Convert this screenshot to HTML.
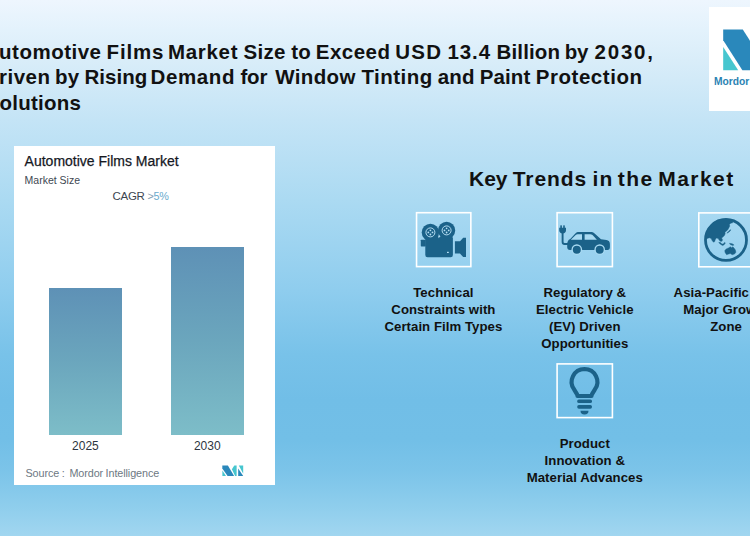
<!DOCTYPE html>
<html lang="en">
<head>
<meta charset="utf-8">
<title>Automotive Films Market</title>
<style>
  html, body { margin: 0; padding: 0; }
  body {
    width: 750px; height: 536px; overflow: hidden; position: relative;
    font-family: "Liberation Sans", sans-serif;
    background: linear-gradient(to bottom,
      #eef6fe 0px, #e3f2fc 30px, #d9edf9 60px, #c4e4f6 120px, #abdaf2 200px,
      #8fcdee 290px, #78c2e9 355px, #71bee7 400px, #72bfe7 440px, #7cc4e9 472px,
      #8dcdec 504px, #a1d6f0 536px);
  }
  .abs { position: absolute; white-space: nowrap; }
  .ttl { margin: 0; font-weight: bold; font-size: 20.5px; line-height: 24px; color: #111; }
  .tl { position: absolute; left: 0; white-space: nowrap; }
  .tl span { position: absolute; top: 0; }
  .kt { margin: 0; position: absolute; left: 0; font-size: 21px; line-height: 24px; font-weight: bold; color: #111; white-space: nowrap; }
  .kt span { position: absolute; top: 0; }
  .panel { position: absolute; left: 14.4px; top: 146.4px; width: 260.8px; height: 338.6px; background: #fff; }
  .bar { position: absolute; background: linear-gradient(to bottom, #5e91b6 0%, #6ba6bd 50%, #7dbdc8 100%); }
  .lbl { position: absolute; width: 160px; text-align: center; font-weight: bold; font-size: 13.2px; letter-spacing: 0.05px; line-height: 17px; color: #111; white-space: nowrap; }
  svg { position: absolute; left: 0; top: 0; overflow: visible; }
</style>
</head>
<body>

<!-- Title -->
<h1 class="ttl">
<span class="tl" style="top:39.7px"><span style="left:-16.2px;letter-spacing:0.49px">Automotive</span> <span style="left:106.6px;letter-spacing:0.84px">Films</span> <span style="left:168.0px;letter-spacing:0.69px">Market</span> <span style="left:243.4px;letter-spacing:0.36px">Size</span> <span style="left:291.2px;letter-spacing:0.20px">to</span> <span style="left:315.8px;letter-spacing:0.48px">Exceed</span> <span style="left:395.2px;letter-spacing:1.35px">USD</span> <span style="left:447.4px;letter-spacing:0.93px">13.4</span> <span style="left:496.6px;letter-spacing:0.12px">Billion</span> <span style="left:564.7px;letter-spacing:-0.10px">by</span> <span style="left:594.5px;letter-spacing:1.80px">2030,</span></span>
<span class="tl" style="top:65.0px"><span style="left:-16.2px;letter-spacing:0.48px">Driven</span> <span style="left:55.0px;letter-spacing:0.34px">by</span> <span style="left:84.5px;letter-spacing:0.02px">Rising</span> <span style="left:150.6px;letter-spacing:0.61px">Demand</span> <span style="left:240.4px;letter-spacing:-0.10px">for</span> <span style="left:275.2px;letter-spacing:0.36px">Window</span> <span style="left:361.4px;letter-spacing:0.48px">Tinting</span> <span style="left:437.8px;letter-spacing:0.15px">and</span> <span style="left:479.8px;letter-spacing:0.08px">Paint</span> <span style="left:535.7px;letter-spacing:0.55px">Protection</span></span>
<span class="tl" style="top:90.8px"><span style="left:-14.3px;letter-spacing:0.22px">Solutions</span></span>
</h1>

<!-- Logo card top-right -->
<div class="abs" style="left:708.9px; top:7px; width:60px; height:103.5px; background:#fff;"></div>
<svg width="750" height="536" viewBox="0 0 750 536">
  <polygon points="723.2,29.6 742.8,29.6 769,70.3 742.4,70.3 723.2,40.3" fill="#2a88bb"/>
  <polygon points="723.2,46.9 738.2,70.3 723.2,70.3" fill="#46c6cf"/>
</svg>
<div class="abs" style="left:713.9px; top:74.6px; font-size:11.4px; line-height:13px; font-weight:bold; color:#2b83b3; transform:scaleX(0.9); transform-origin:0 0;">Mordor Intelligence</div>

<!-- Chart panel -->
<div class="panel"></div>
<div class="abs" style="left:24.6px; top:152.5px; font-size:14px; line-height:16px; color:#15181f; -webkit-text-stroke:0.25px #15181f;">Automotive Films Market</div>
<div class="abs" style="left:24.6px; top:173.5px; font-size:10.5px; line-height:12px; color:#414852;">Market Size</div>
<div class="abs" style="left:112.6px; top:189.5px; font-size:11.5px; line-height:13px; color:#3c4651; letter-spacing:-0.3px;">CAGR <span style="color:#7f9db3;font-size:10.8px">&gt;</span><span style="color:#6aaacd;font-size:10.8px">5%</span></div>
<div class="bar" style="left:48.9px; top:287.5px; width:73px; height:147.7px;"></div>
<div class="bar" style="left:170.8px; top:247.2px; width:73px; height:188px;"></div>
<div class="abs" style="left:55.4px; width:60px; text-align:center; top:438.9px; font-size:12px; line-height:14px; color:#2d3540;">2025</div>
<div class="abs" style="left:177.3px; width:60px; text-align:center; top:438.9px; font-size:12px; line-height:14px; color:#2d3540;">2030</div>
<div class="abs" style="left:25.5px; top:466.5px; font-size:10.8px; line-height:13px; color:#6d7882; letter-spacing:-0.08px; word-spacing:-0.5px;">Source :&nbsp; Mordor Intelligence</div>
<svg width="750" height="536" viewBox="0 0 750 536">
  <g id="mini-logo">
    <polygon points="222.3,465.4 227.9,465.4 234.1,475.9 227.6,475.9 222.3,468.6" fill="#2a88bb"/>
    <polygon points="222.4,470.6 226,475.9 222.4,475.9" fill="#46c6cf"/>
    <polygon points="234.3,465.4 236.6,465.4 236.6,475.9 235.1,475.9 231.9,469.3" fill="#46c6cf"/>
    <polygon points="238.2,468.4 243.2,475.9 238.2,475.9" fill="#2a88bb"/>
    <polygon points="238.8,465.4 243.2,465.4 243.2,473.8" fill="#46c6cf"/>
  </g>
</svg>

<!-- Key Trends heading -->
<h2 class="kt" style="top:167px"><span style="left:469.1px;letter-spacing:-0.10px">Key</span> <span style="left:512.8px;letter-spacing:0.90px">Trends</span> <span style="left:592.5px;letter-spacing:1.11px">in</span> <span style="left:617.7px;letter-spacing:1.54px">the</span> <span style="left:658.2px;letter-spacing:1.47px">Market</span></h2>

<!-- Icons -->
<svg width="750" height="536" viewBox="0 0 750 536">
  <!-- icon frames -->
  <g fill="none" stroke="#ffffff" stroke-width="1.6">
    <rect x="416.55" y="212.7" width="54.3" height="53.9"/>
    <rect x="557.1" y="212.7" width="55.3" height="53.9"/>
    <rect x="698.8" y="212.9" width="56" height="53.9"/>
    <rect x="557.1" y="363.9" width="55.3" height="53.7"/>
  </g>
  <!-- camera -->
  <g fill="#1b6289">
    <circle cx="430.4" cy="232.4" r="8.7"/>
    <circle cx="446.6" cy="230.4" r="8.6"/>
    <rect x="425.3" y="236" width="27.6" height="21.2" rx="2.2"/>
    <rect x="420.8" y="239.7" width="5" height="6.7" rx="0.6"/>
    <polygon points="454.9,241.3 460,241.3 463.2,237.8 466,237.8 466,257.1 463.2,257.1 460,253.6 454.9,253.6"/>
  </g>
  <g fill="none" stroke="#b5def3" stroke-width="1">
    <circle cx="430.4" cy="232.4" r="4.5"/>
    <circle cx="446.6" cy="230.4" r="4.5"/>
  </g>
  <g fill="#b5def3">
    <circle cx="430.4" cy="230.3" r="0.9"/><circle cx="430.4" cy="234.5" r="0.9"/>
    <circle cx="428.3" cy="232.4" r="0.9"/><circle cx="432.5" cy="232.4" r="0.9"/>
    <circle cx="446.6" cy="228.3" r="0.9"/><circle cx="446.6" cy="232.5" r="0.9"/>
    <circle cx="444.5" cy="230.4" r="0.9"/><circle cx="448.7" cy="230.4" r="0.9"/>
    <polygon points="438.2,236 440.6,236 438.6,238.2"/>
    <rect x="447" y="251.8" width="1.8" height="1.2"/>
  </g>

  <!-- EV car -->
  <g fill="#1b6289">
    <rect x="560.3" y="225.2" width="1.6" height="3.4" rx="0.6"/>
    <rect x="563.2" y="225.2" width="1.6" height="3.4" rx="0.6"/>
    <path d="M559.2 227.8 h6.8 v2.2 a3.4 3.4 0 0 1 -6.8 0 z"/>
    <path d="M562.6 232 v10 a2 2 0 0 0 2 2 h4" fill="none" stroke="#1b6289" stroke-width="1.9"/>
    <path d="M567.2 244.5 c0 -3 1 -4.5 3 -5.5 l5.2 -5.6 c1 -1 2 -1.4 3.6 -1.4 h11.6 c1.6 0 2.8 0.4 4 1.4 l6.4 5.8 l5.5 0.8 c2.2 0.4 3.4 1.8 3.4 4 v3.3 c0 1.6 -0.8 2.6 -2.4 2.6 h-37.5 c-1.8 0 -2.8 -1 -2.8 -2.6 z"/>
  </g>
  <g fill="#a9daf2">
    <path d="M570.8 239.8 l4.9 -4.9 c0.5 -0.5 1 -0.7 1.8 -0.7 h4.5 v5.6 z"/>
    <path d="M584.6 234.2 h5.6 c0.9 0 1.6 0.3 2.3 0.9 l4.4 4.7 h-12.3 z"/>
    <circle cx="576.8" cy="249.6" r="5.3"/>
    <circle cx="599.7" cy="249.6" r="5.3"/>
  </g>
  <g fill="#1b6289">
    <circle cx="576.8" cy="249.7" r="4"/>
    <circle cx="599.7" cy="249.7" r="4"/>
  </g>

  <!-- globe -->
  <circle cx="726" cy="239.9" r="20.5" fill="none" stroke="#1b6289" stroke-width="2.8"/>
  <g fill="#1b6289" stroke="#1b6289" stroke-width="0.4" stroke-linejoin="round">
    <polygon points="705.8,239.0 709.3,237.8 711.2,238.4 712.1,240.6 713.5,242.2 714.7,241.6 715.4,239.2 716.6,238.1 718.2,238.4 719.1,240.1 720.3,241.2 722.0,241.2 722.5,239.7 721.6,238.1 722.9,237.1 724.4,235.6 725.2,233.8 724.9,232.3 726.3,231.3 728.0,229.4 728.9,227.8 729.8,226.1 729.4,224.6 730.8,223.2 732.8,222.8 732.2,221.0 728.0,219.1 723.3,218.9 717.7,220.3 712.1,223.8 707.9,228.9 705.8,234.5"/>
    <polygon points="726.9,233.2 728.0,232.7 729.7,231.4 730.8,229.9 730.0,229.7 729.1,231.0 727.8,231.9"/>
    <polygon points="718.7,242.5 720.1,243.9 722.4,245.5 723.9,245.0 725.4,242.9 724.4,242.4 723.3,243.9 722.0,244.0 720.0,242.3"/>
    <polygon points="729.5,243.3 732.2,243.7 734.1,245.0 732.6,245.4 730.2,244.6"/>
    <polygon points="724.7,250.8 726.1,249.0 728.5,247.9 730.3,246.8 731.7,247.7 732.8,246.8 734.0,248.0 735.4,249.9 735.9,252.2 734.5,254.1 732.2,254.7 730.3,253.6 728.0,254.2 726.6,254.7 725.2,252.7"/>
  </g>

  <!-- light bulb -->
  <path transform="translate(0,0.7)" d="M584.5 368.3 a12.9 12.9 0 0 1 10.3 20.6 l-2.6 4.2 c-0.4 0.7 -0.7 1.4 -0.7 2.2 h-14 c0 -0.8 -0.3 -1.5 -0.7 -2.2 l-2.6 -4.2 a12.9 12.9 0 0 1 10.3 -20.6 z" fill="none" stroke="#1b6289" stroke-width="4.2" stroke-linejoin="round"/>
  <g fill="#1b6289">
    <rect x="577.2" y="399.4" width="14.8" height="3.7" rx="1.7"/>
    <rect x="577.2" y="405" width="14.8" height="3.7" rx="1.7"/>
    <path d="M580.5 410.7 h8 a4 3.8 0 0 1 -8 0 z"/>
  </g>
</svg>

<!-- Labels -->
<div class="lbl" style="left:363.4px; top:284.2px;">Technical<br>Constraints with<br>Certain Film Types</div>
<div class="lbl" style="left:504.8px; top:284.2px;">Regulatory &amp;<br>Electric Vehicle<br>(EV) Driven<br>Opportunities</div>
<div class="lbl" style="left:646.1px; top:284.2px;">Asia-Pacific as a<br>Major Growth<br>Zone</div>
<div class="lbl" style="left:504.8px; top:434.7px;">Product<br>Innovation &amp;<br>Material Advances</div>

</body>
</html>
